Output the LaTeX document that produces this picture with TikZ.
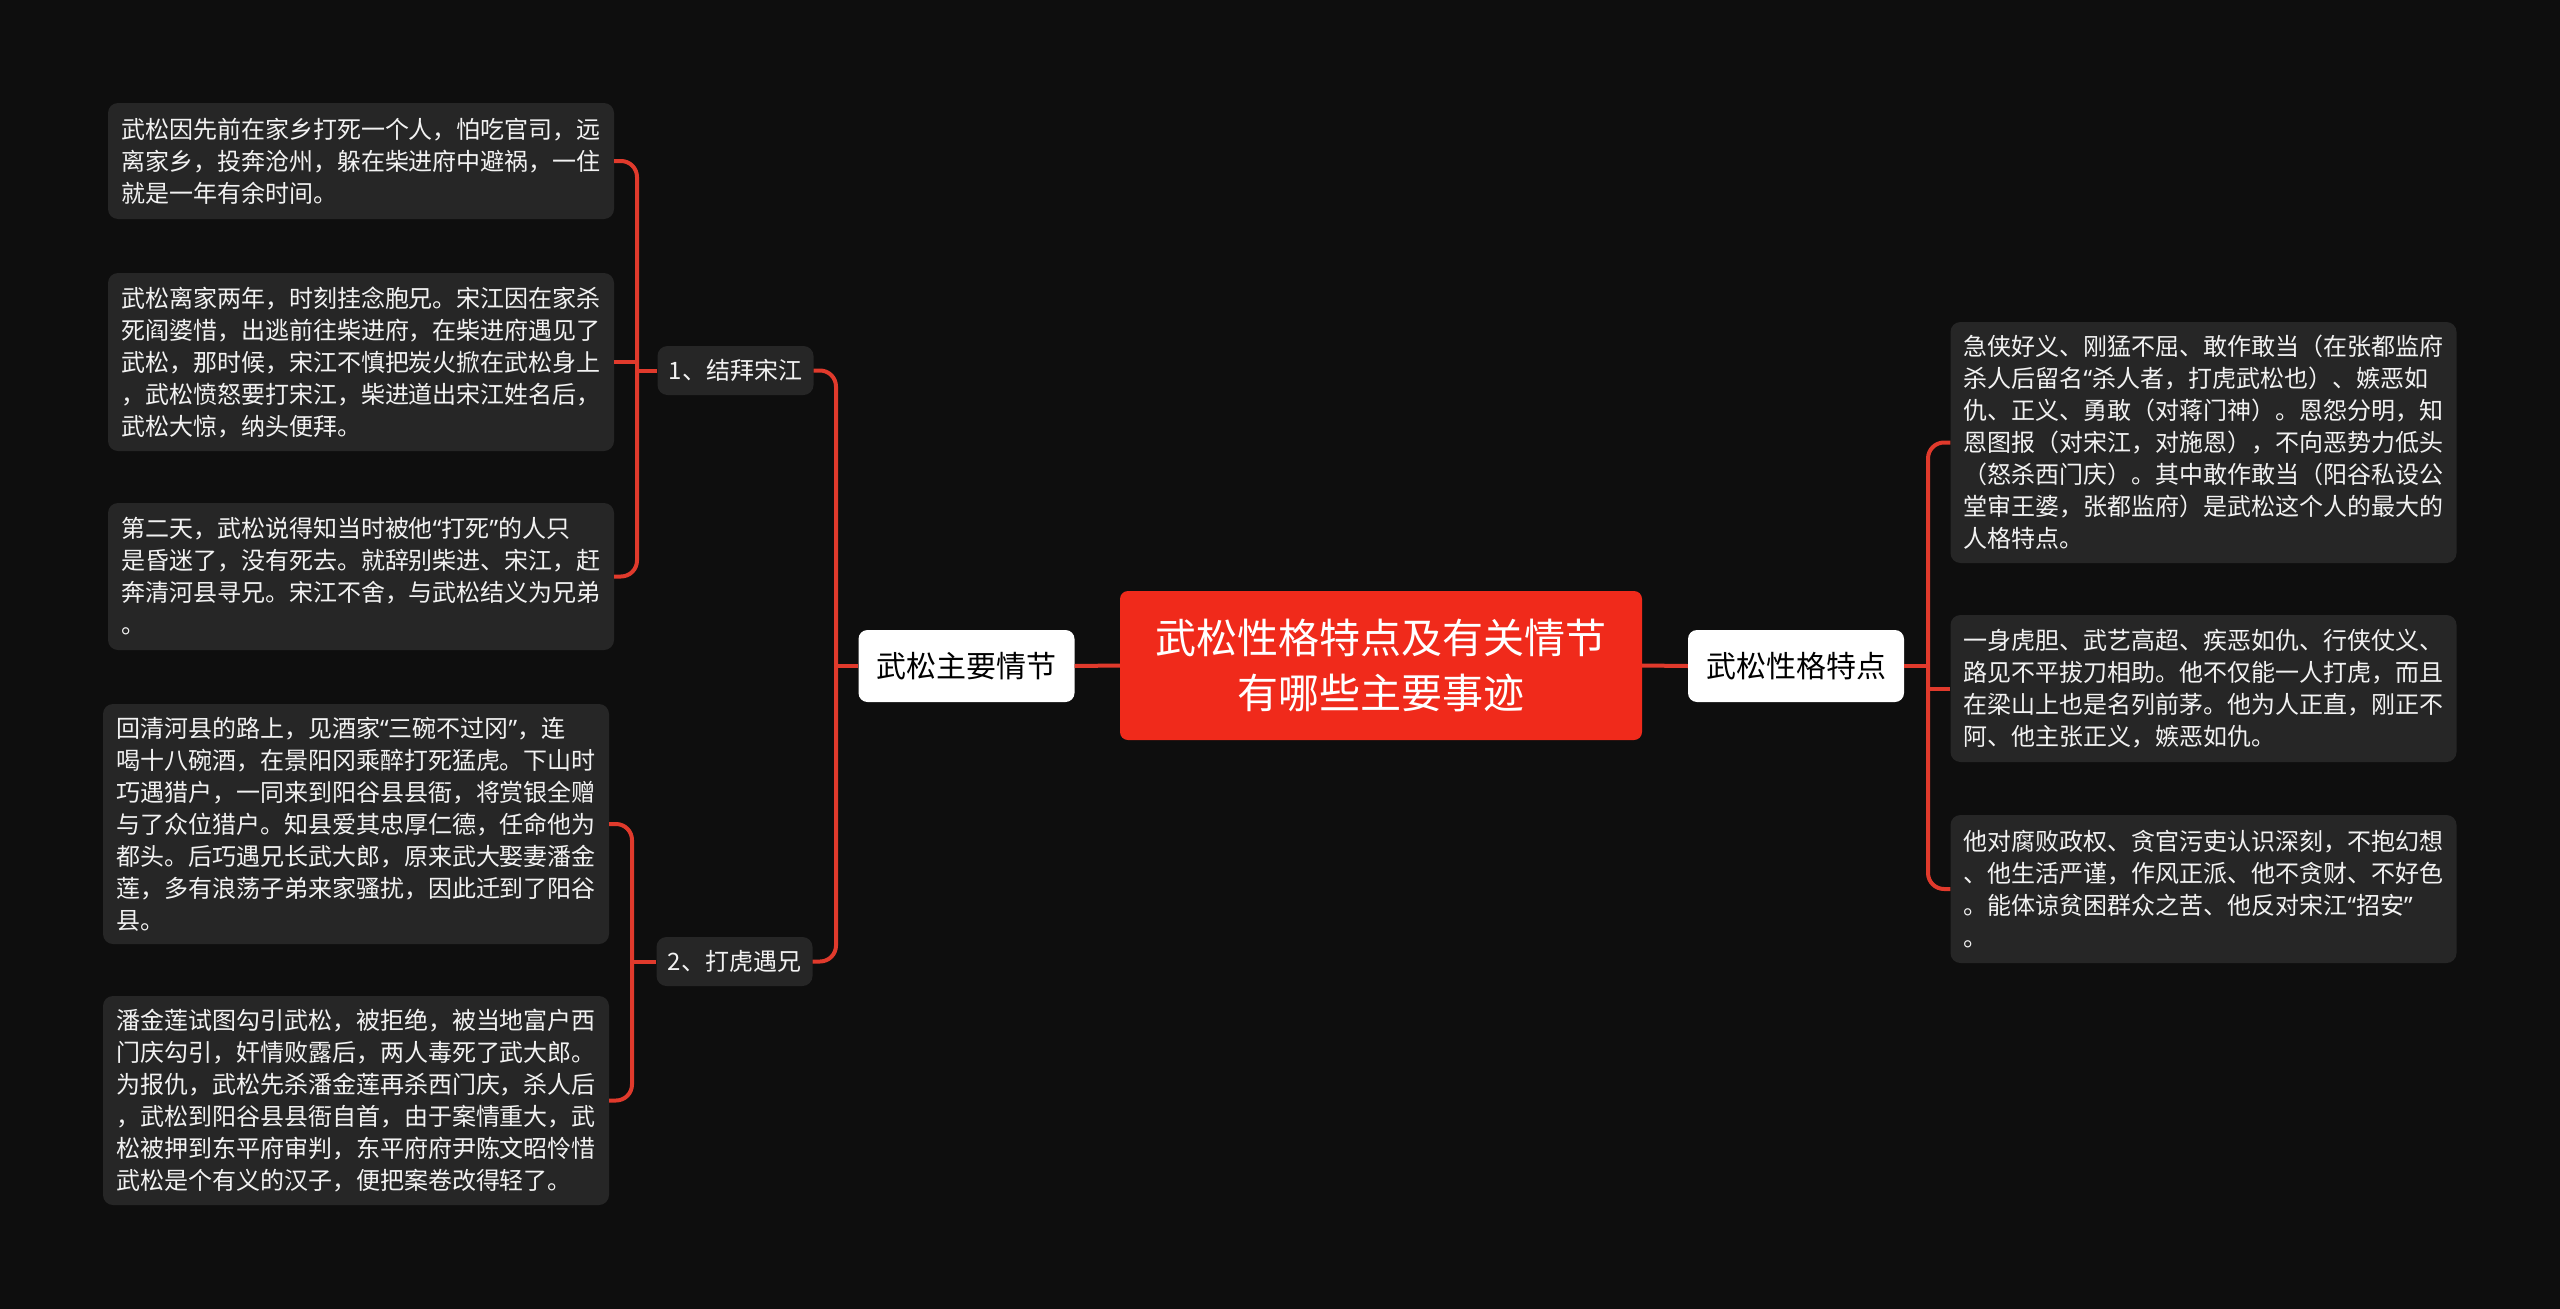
\documentclass[tikz,border=0pt]{standalone}
\usepackage{fontspec}
\setmainfont{Noto Sans CJK SC}
\newfontfamily\qfont{Noto Sans}
\newcommand{\myoq}{{\qfont “}}
\newcommand{\mycq}{{\qfont ”}}
\definecolor{bgc}{HTML}{0E0E0E}
\definecolor{leafbg}{HTML}{262626}
\definecolor{leaftext}{HTML}{F2F2F2}
\definecolor{linec}{HTML}{E03A2C}
\definecolor{rootc}{HTML}{F02A1B}
\tikzset{
  leaf/.style={fill=leafbg, rounded corners=10pt, text=leaftext, minimum width=506pt,
    text width=480pt, inner xsep=13pt, inner ysep=0pt, align=left,
    font=\fontsize{24pt}{32pt}\selectfont},
  topic/.style={fill=leafbg, rounded corners=10pt, text=leaftext, minimum width=156pt,
    minimum height=49pt, inner sep=0pt, font=\fontsize{24pt}{30pt}\selectfont},
  branch/.style={fill=white, rounded corners=9pt, text=black, minimum width=216pt,
    minimum height=72pt, inner sep=0pt, font=\fontsize{30pt}{36pt}\selectfont},
  rootbox/.style={fill=rootc, rounded corners=8pt, text=white, minimum width=522pt,
    minimum height=149pt, inner sep=0pt, align=center, font=\fontsize{41pt}{55pt}\selectfont},
  conn/.style={draw=linec, line width=4pt, rounded corners=16pt}
}
\begin{document}
\begin{tikzpicture}[x=1pt,y=-1pt]
\fill[bgc] (0,0) rectangle (2560,1309);
\useasboundingbox (0,0) rectangle (2560,1309);

% root and branches
\node[rootbox] (root) at (1381,665.5) {武松性格特点及有关情节\\有哪些主要事迹};
\node[branch] (lb) at (966.5,666) {武松主要情节};
\node[branch] (rb) at (1796,666) {武松性格特点};

% topics
\node[topic] (t1) at (735.5,370.5) {1、结拜宋江};
\node[topic] (t2) at (734.5,961.5) {2、打虎遇兄};

% left leaves
\node[leaf, minimum height=116pt] (l1) at (361,161) {武松因先前在家乡打死一个人，怕吃官司，远\\离家乡，投奔沧州，躲在柴进府中避祸，一住\\就是一年有余时间。};
\node[leaf, minimum height=178pt] (l2) at (361,362) {武松离家两年，时刻挂念胞兄。宋江因在家杀\\死阎婆惜，出逃前往柴进府，在柴进府遇见了\\武松，那时候，宋江不慎把炭火掀在武松身上\\，武松愤怒要打宋江，柴进道出宋江姓名后，\\武松大惊，纳头便拜。};
\node[leaf, minimum height=147pt] (l3) at (361,576.5) {第二天，武松说得知当时被他\myoq 打死\mycq 的人只\\是昏迷了，没有死去。就辞别柴进、宋江，赶\\奔清河县寻兄。宋江不舍，与武松结义为兄弟\\。};
\node[leaf, minimum height=240pt] (l4) at (356,824) {回清河县的路上，见酒家\myoq 三碗不过冈\mycq ，连\\喝十八碗酒，在景阳冈乘醉打死猛虎。下山时\\巧遇猎户，一同来到阳谷县县衙，将赏银全赠\\与了众位猎户。知县爱其忠厚仁德，任命他为\\都头。后巧遇兄长武大郎，原来武大娶妻潘金\\莲，多有浪荡子弟来家骚扰，因此迁到了阳谷\\县。};
\node[leaf, minimum height=209pt] (l5) at (356,1100.5) {潘金莲试图勾引武松，被拒绝，被当地富户西\\门庆勾引，奸情败露后，两人毒死了武大郎。\\为报仇，武松先杀潘金莲再杀西门庆，杀人后\\，武松到阳谷县县衙自首，由于案情重大，武\\松被押到东平府审判，东平府府尹陈文昭怜惜\\武松是个有义的汉子，便把案卷改得轻了。};

% right leaves
\node[leaf, minimum height=241pt] (r1) at (2203.5,442.5) {急侠好义、刚猛不屈、敢作敢当（在张都监府\\杀人后留名\myoq 杀人者，打虎武松也）、嫉恶如\\仇、正义、勇敢（对蒋门神）。恩怨分明，知\\恩图报（对宋江，对施恩），不向恶势力低头\\（怒杀西门庆）。其中敢作敢当（阳谷私设公\\堂审王婆，张都监府）是武松这个人的最大的\\人格特点。};
\node[leaf, minimum height=147pt] (r2) at (2203.5,688.5) {一身虎胆、武艺高超、疾恶如仇、行侠仗义、\\路见不平拔刀相助。他不仅能一人打虎，而且\\在梁山上也是名列前茅。他为人正直，刚正不\\阿、他主张正义，嫉恶如仇。};
\node[leaf, minimum height=148pt] (r3) at (2203.5,889) {他对腐败政权、贪官污吏认识深刻，不抱幻想\\、他生活严谨，作风正派、他不贪财、不好色\\。能体谅贫困群众之苦、他反对宋江\myoq 招安\mycq \\。};

% junction coordinates
\coordinate (jl) at (836,666);
\coordinate (jr) at (1928,666);
\coordinate (j1) at (637,370.5);
\coordinate (j2) at (632,961.5);

% connectors
\draw[conn] (root.west) -- (lb.east);
\draw[conn] (root.east) -- (rb.west);

\draw[conn] (t1.east) -| (jl) |- (t2.east);
\draw[conn] (jl) -- (lb.west);

\draw[conn] (l1.east) -| (j1) |- (l3.east);
\draw[conn] (l2.east) -- (l2.east -| j1);
\draw[conn] (j1) -- (t1.west);

\draw[conn] (l4.east) -| (j2) |- (l5.east);
\draw[conn] (j2) -- (t2.west);

\draw[conn] (r1.west) -| (jr) |- (r3.west);
\draw[conn] (r2.west) -- (r2.west -| jr);
\draw[conn] (rb.east) -- (jr);
\end{tikzpicture}
\end{document}
